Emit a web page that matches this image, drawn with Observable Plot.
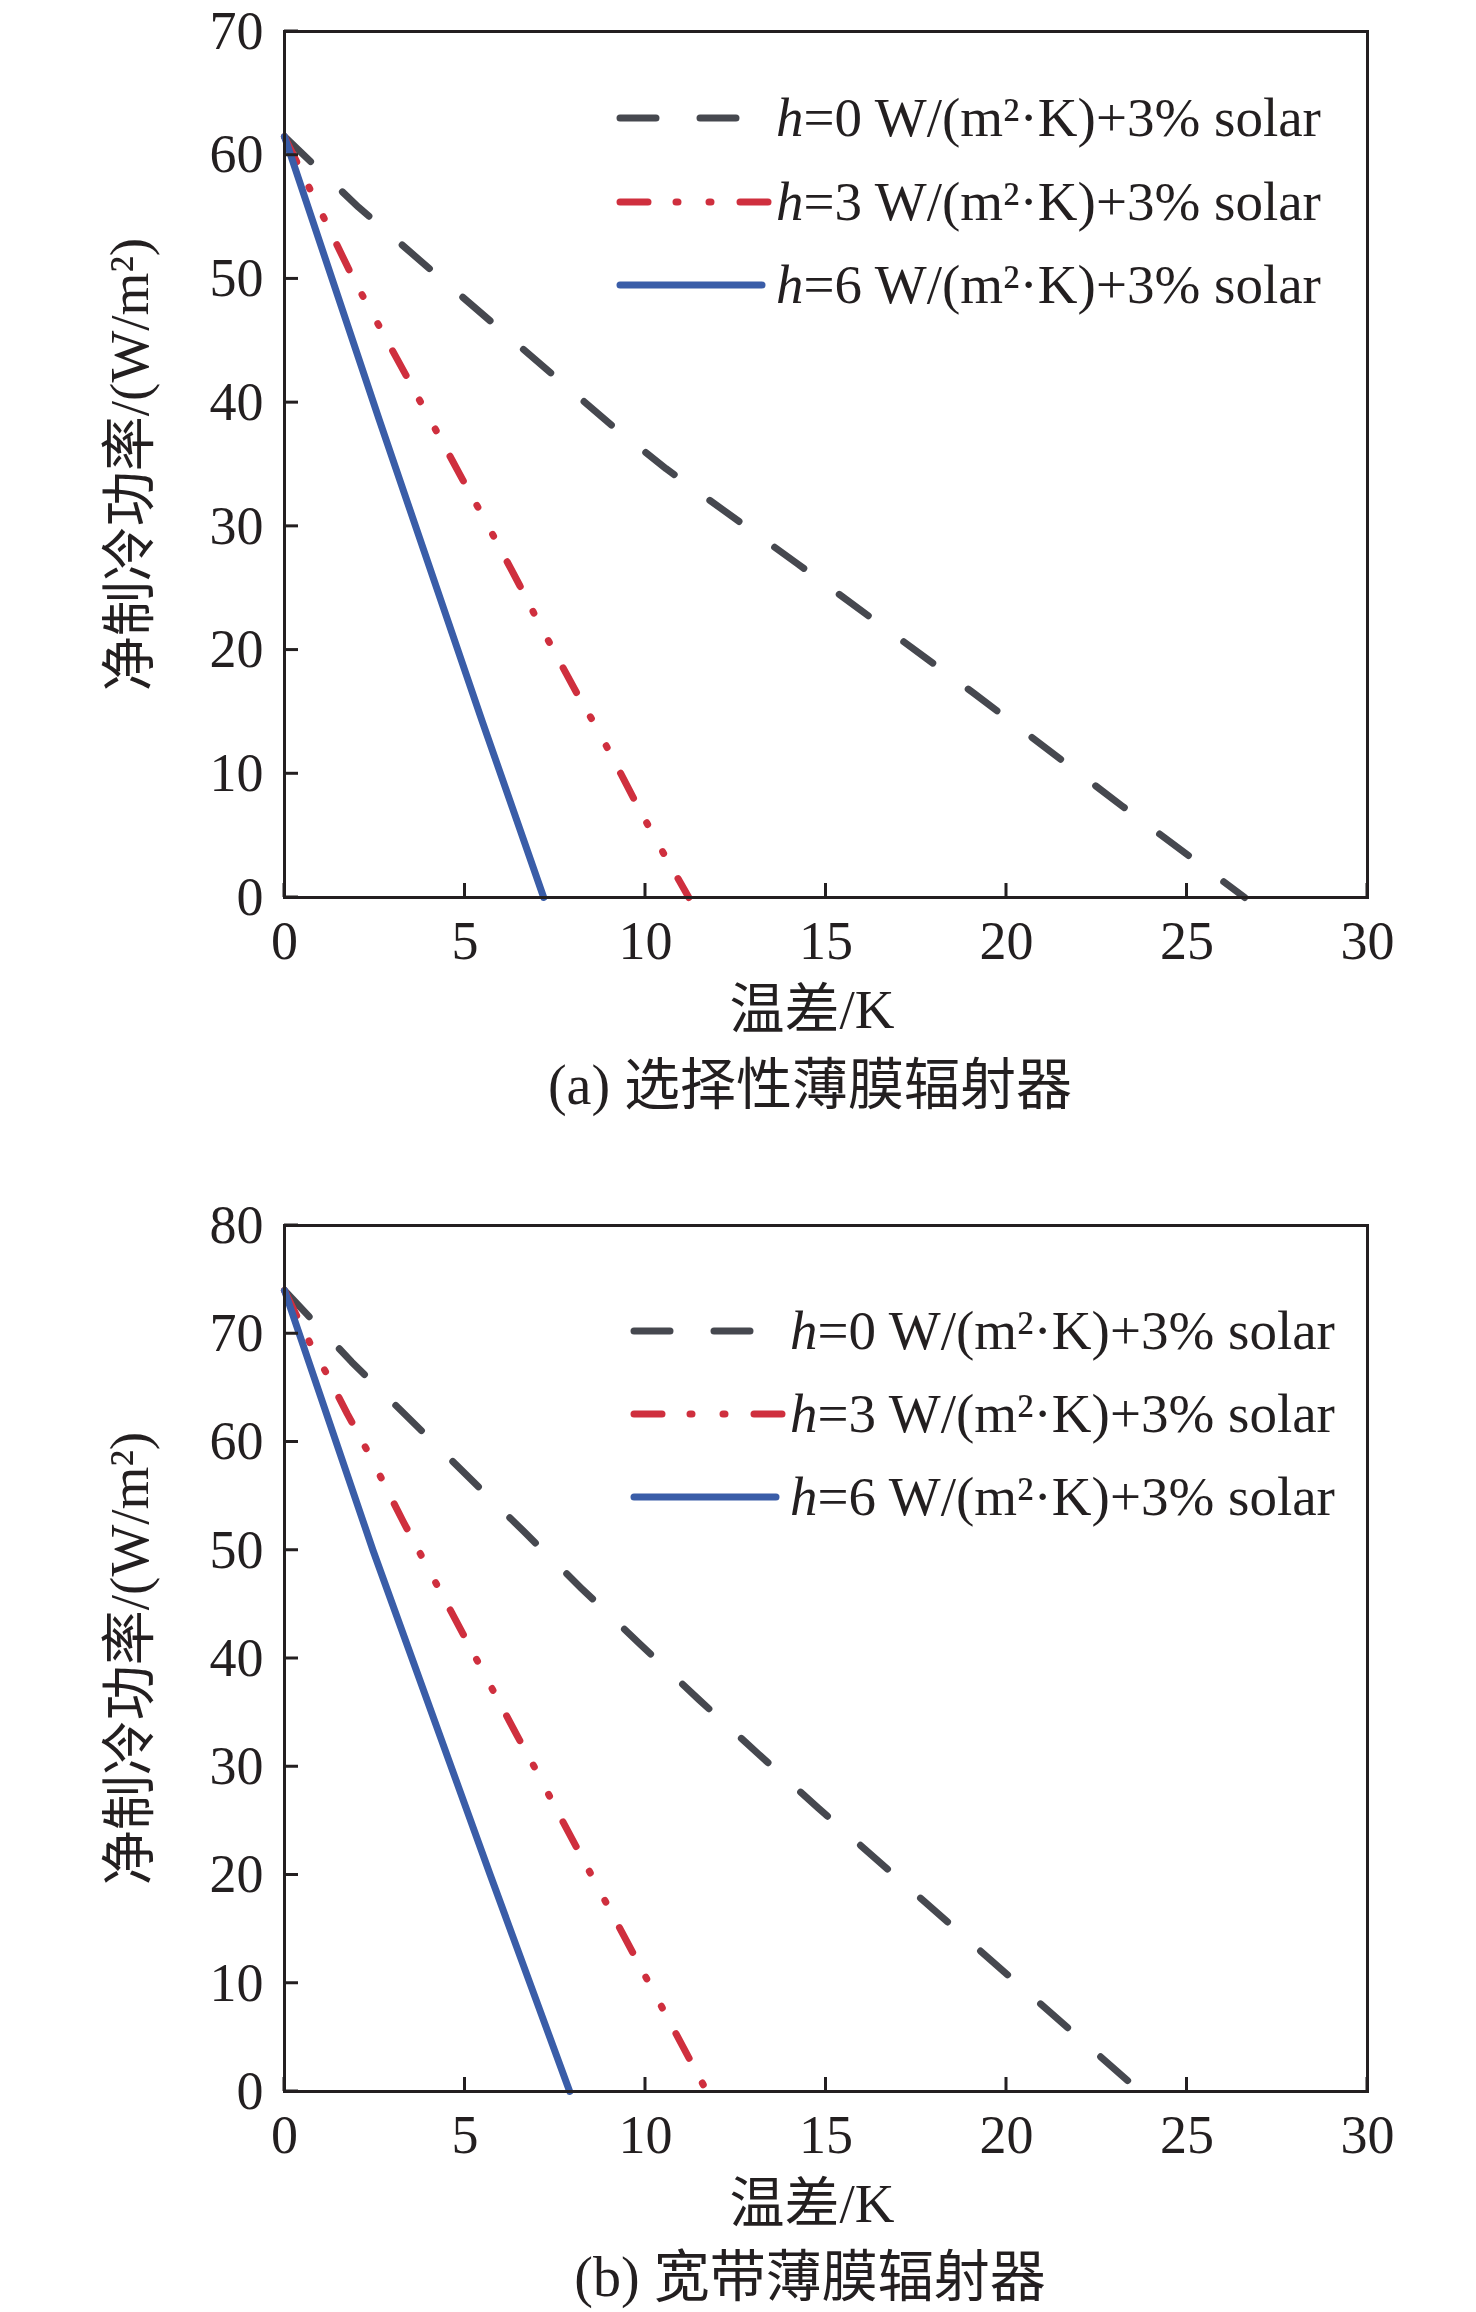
<!DOCTYPE html>
<html>
<head>
<meta charset="utf-8">
<script src="https://cdn.jsdelivr.net/npm/d3@7"></script>
<script src="https://cdn.jsdelivr.net/npm/@observablehq/plot@0.6"></script>
<style>
  body { margin: 0; background: #fff; }
  #wrap { position: relative; width: 1476px; height: 2312px; overflow: hidden;
          font-family: "Liberation Serif", "Times New Roman", "Noto Sans CJK SC", serif; color: #231f20; }
  .panel { position: absolute; left: 0; }
  .caption { position: absolute; white-space: nowrap; font-size: 56px; line-height: 60px;
             transform: translateX(-50%); }
</style>
</head>
<body>
<div id="wrap"></div>
<script>
// ---------- data ----------
const xTicks = [0, 5, 10, 15, 20, 25, 30];
const yTicksA = [0, 10, 20, 30, 40, 50, 60, 70];
const yTicksB = [0, 10, 20, 30, 40, 50, 60, 70, 80];

const seriesKeys = ["h0", "h3", "h6"];
const seriesLabels = ["=0 W/(m²·K)+3% solar", "=3 W/(m²·K)+3% solar", "=6 W/(m²·K)+3% solar"];
const seriesColors = ["#46484f", "#cf2f3e", "#3a5da8"];
const seriesDash = ["36,44", "28,28,2,31,2,29", null];

// panel (a) 选择性薄膜辐射器
const aH0x = [0, 2.05, 3.75, 9.05, 10.57, 14.2, 19.1, 23.2, 26.6];
const aH0y = [61.5, 55.8, 51.5, 38.2, 34.66, 27.0, 16.5, 7.4, 0];
const aH3x = [0, 1.91, 4.32, 4.93, 5.52, 6.52, 7.08, 8.1, 8.71, 9.71, 10.28, 11.2];
const aH3y = [61.5, 50, 37.1, 33.8, 30.7, 25.2, 22.0, 16.5, 13.4, 7.8, 4.7, 0];
const aH6x = [0, 2.63, 5.47, 7.18];
const aH6y = [61.5, 38.56, 14.3, 0];

// panel (b) 宽带薄膜辐射器
const bH0x = [0, 1.86, 6.64, 8.22, 9.86, 11.48, 13.12, 14.78, 23.7];
const bH0y = [74, 67.4, 51.7, 46.5, 41.3, 36.2, 31.2, 26.2, 0];
const bH3x = [0, 0.74, 1.17, 1.74, 2.31, 2.72, 3.28, 6.44, 7.05, 7.46, 11.7];
const bH3y = [74, 68.9, 66.3, 62.6, 59.1, 56.4, 52.7, 32.9, 29.2, 26.5, 0];
const bH6x = [0, 2.45, 5.7, 7.9];
const bH6y = [74, 50, 20, 0];

const xLabel = "温差/K";
const yLabel = "净制冷功率/(W/m²)";
const captions = ["(a) 选择性薄膜辐射器", "(b) 宽带薄膜辐射器"];

// ---------- helpers ----------
const FONT = '"Liberation Serif", "Times New Roman", "Noto Sans CJK SC", serif';
const INK = "#231f20";
const LW = 7;

function toRows(xs, ys) { return xs.map((x, i) => ({x, y: ys[i]})); }

function makePanel({series, yDomain, yTicks, legendX, legendYs}) {
  const lineMarks = series.map((s, i) => Plot.line(s, {
    x: "x", y: "y", stroke: seriesColors[i], strokeWidth: LW,
    strokeDasharray: seriesDash[i], strokeLinecap: "round", strokeLinejoin: "round"
  }));
  const svg = Plot.plot({
    width: 1476, height: 1047,
    marginLeft: 284, marginRight: 109, marginTop: 31, marginBottom: 150,
    style: {fontFamily: FONT, fontSize: "54px", color: INK, background: "transparent", overflow: "visible"},
    x: {domain: [0, 30]},
    y: {domain: yDomain},
    marks: [
      ...lineMarks,
      Plot.frame({stroke: INK, strokeWidth: 3}),
      Plot.axisX({ticks: xTicks, tickSize: 0, tickPadding: 23, label: null, fontSize: 54, fill: INK}),
      Plot.axisY({ticks: yTicks, tickSize: 0, tickPadding: 21, label: null, fontSize: 54, fill: INK}),
      Plot.text([xLabel], {frameAnchor: "bottom", dy: 113, dx: -14, text: d => d, fontSize: 55, fill: INK, lineAnchor: "middle", textAnchor: "middle"}),
      Plot.text([yLabel], {frameAnchor: "left", dx: -154, rotate: -90, text: d => d, fontSize: 55, fill: INK, lineAnchor: "middle", textAnchor: "middle"})
    ]
  });
  const sx = svg.scale("x"), sy = svg.scale("y");
  const x0 = sx.apply(0), y0 = sy.apply(yDomain[0]);
  // inward tick marks from the plot's own scales
  const tg = d3.select(svg).append("g").attr("stroke", INK).attr("stroke-width", 3);
  xTicks.forEach(v => {
    const px = sx.apply(v);
    tg.append("line").attr("x1", px).attr("x2", px).attr("y1", y0).attr("y2", y0 - 14);
  });
  yTicks.forEach(v => {
    const py = sy.apply(v);
    tg.append("line").attr("x1", x0).attr("x2", x0 + 14).attr("y1", py).attr("y2", py);
  });
  // legend (decoration, not data)
  const g = d3.select(svg).append("g").attr("class", "legend");
  const lens = [122, 148, 142];
  seriesKeys.forEach((k, i) => {
    const y = legendYs[i];
    g.append("line")
      .attr("x1", legendX).attr("x2", legendX + lens[i])
      .attr("y1", y).attr("y2", y)
      .attr("stroke", seriesColors[i]).attr("stroke-width", LW)
      .attr("stroke-linecap", "round")
      .attr("stroke-dasharray", seriesDash[i]);
    const t = g.append("text")
      .attr("x", legendX + 156).attr("y", y + 18)
      .attr("text-anchor", "start")
      .attr("font-family", FONT).attr("font-size", 55).attr("fill", INK);
    t.append("tspan").attr("font-style", "italic").text("h");
    t.append("tspan").text(seriesLabels[i]);
  });
  return svg;
}

const wrap = document.getElementById("wrap");

const svgA = makePanel({
  series: [toRows(aH0x, aH0y), toRows(aH3x, aH3y), toRows(aH6x, aH6y)],
  yDomain: [0, 70], yTicks: yTicksA, legendX: 620, legendYs: [118, 202, 285]
});
const divA = document.createElement("div");
divA.className = "panel"; divA.style.top = "0px";
divA.appendChild(svgA);
wrap.appendChild(divA);

const capA = document.createElement("div");
capA.className = "caption"; capA.style.left = "810px"; capA.style.top = "1055px";
capA.textContent = captions[0];
wrap.appendChild(capA);

const svgB = makePanel({
  series: [toRows(bH0x, bH0y), toRows(bH3x, bH3y), toRows(bH6x, bH6y)],
  yDomain: [0, 80], yTicks: yTicksB, legendX: 634, legendYs: [137, 220, 303]
});
const divB = document.createElement("div");
divB.className = "panel"; divB.style.top = "1194px";
divB.appendChild(svgB);
wrap.appendChild(divB);

const capB = document.createElement("div");
capB.className = "caption"; capB.style.left = "810px"; capB.style.top = "2247px";
capB.textContent = captions[1];
wrap.appendChild(capB);
</script>
</body>
</html>
